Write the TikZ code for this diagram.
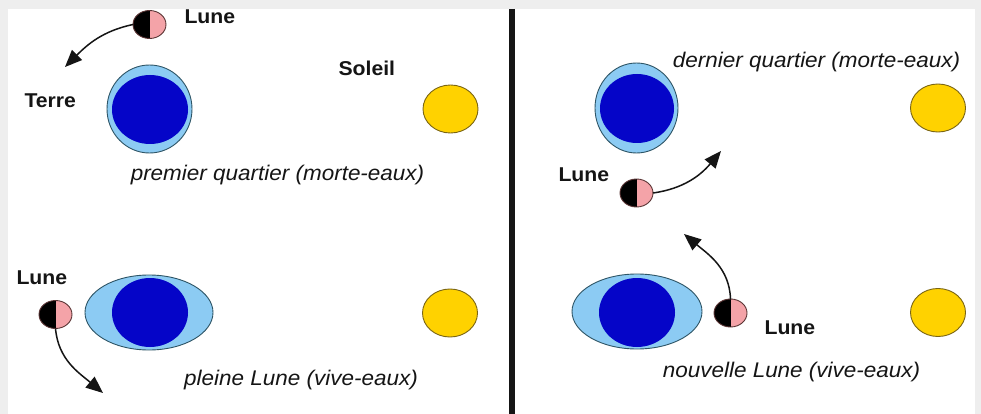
\documentclass[tikz,border=0pt]{standalone}
\usepackage{fontspec}
\setmainfont{Liberation Sans}
\newfontfamily\labfont[FakeStretch=1.06]{Liberation Sans}
\usetikzlibrary{shapes.geometric,arrows.meta}

\definecolor{frame}{HTML}{EEEEEE}
\definecolor{seablue}{HTML}{8CCBF3}
\definecolor{seaedge}{HTML}{2E5566}
\definecolor{landblue}{HTML}{0505C8}
\definecolor{moonpink}{HTML}{F4A3A8}
\definecolor{moonedge}{HTML}{5A3535}
\definecolor{sungold}{HTML}{FFD200}
\definecolor{sunedge}{HTML}{7A6514}
\definecolor{ink}{HTML}{151515}

\tikzset{
  body/.style={ellipse, inner sep=0pt, outer sep=0pt},
  ocean/.style={body, fill=seablue, draw=seaedge, line width=0.9pt},
  land/.style={body, fill=landblue},
  sun/.style={body, fill=sungold, draw=sunedge, line width=0.9pt,
    minimum width=55pt, minimum height=48pt},
  moon/.style={body, fill=moonpink, draw=moonedge, line width=0.9pt,
    minimum width=33pt, minimum height=28pt,
    path picture={\fill[black] (path picture bounding box.south west)
      rectangle (path picture bounding box.north);}},
  name label/.style={anchor=base west, text=ink,
    font=\labfont\fontsize{20}{24}\selectfont\bfseries},
  phase label/.style={anchor=base, text=ink,
    font=\labfont\fontsize{21.2}{25}\selectfont\itshape},
  orbit/.style={line width=1.5pt, draw=ink,
    -{Triangle[length=17pt,width=14pt]}},
}

\begin{document}
\begin{tikzpicture}[x=1pt,y=-1pt]
  % page and frame
  \fill[frame] (0,0) rectangle (981,414);
  \fill[white] (8,9) rectangle (975,414);
  \useasboundingbox (0,0) rectangle (981,414);

  % separator between the two halves
  \coordinate (sepTop) at (511.5,9);
  \coordinate (sepBot) at (511.5,414);
  \draw[line width=6pt, ink] (sepTop) -- (sepBot);

  % ---------- first quarter ----------
  \node[ocean, minimum width=85pt, minimum height=88pt] (seaA) at (149.5,109) {};
  \node[land, minimum width=76pt, minimum height=69pt] (landA) at (150,109.5) {};
  \node[sun] (sunA) at (450.5,109) {};
  \node[moon] (moonA) at (149.5,24.5) {};
  \node[name label] (lunA) at (181,24) {Lune};
  \node[name label] (terre) at (21,108) {Terre};
  \node[name label] (soleil) at (335,76) {Soleil};
  \node[phase label] (phaseA) at (277.5,180) {premier quartier (morte-eaux)};
  \coordinate (tipA) at (65,67);
  \draw[orbit] (moonA.west) to[out=192, in=45] (tipA);

  % ---------- full moon ----------
  \node[ocean, minimum width=128pt, minimum height=75pt] (seaB) at (149,312.5) {};
  \node[land, minimum width=76pt, minimum height=69pt] (landB) at (150,312.5) {};
  \node[sun] (sunB) at (450,313) {};
  \node[moon] (moonB) at (55.5,314.5) {};
  \node[name label] (lunB) at (13,284) {Lune};
  \node[phase label] (phaseB) at (301,385) {pleine Lune (vive-eaux)};
  \coordinate (tipB) at (103,393);
  \draw[orbit] (moonB.south) to[out=-85, in=140] (tipB);

  % ---------- last quarter ----------
  \node[ocean, minimum width=83pt, minimum height=90pt] (seaC) at (636.5,108) {};
  \node[land, minimum width=74pt, minimum height=69pt] (landC) at (637,108.5) {};
  \node[sun] (sunC) at (938,108) {};
  \node[moon] (moonC) at (636.5,193) {};
  \node[name label] (lunC) at (555,182) {Lune};
  \node[phase label] (phaseC) at (816.5,68) {dernier quartier (morte-eaux)};
  \coordinate (tipC) at (721,151);
  \draw[orbit] (moonC.east) to[out=8, in=230] (tipC);

  % ---------- new moon ----------
  \node[ocean, minimum width=130pt, minimum height=75pt] (seaD) at (637,311.5) {};
  \node[land, minimum width=76pt, minimum height=69pt] (landD) at (637,312.5) {};
  \node[sun] (sunD) at (938,312.5) {};
  \node[moon] (moonD) at (730.5,313) {};
  \node[name label] (lunD) at (761,334) {Lune};
  \node[phase label] (phaseD) at (791.5,377) {nouvelle Lune (vive-eaux)};
  \coordinate (tipD) at (684,234);
  \draw[orbit] (moonD.north) to[out=92, in=-40] (tipD);
\end{tikzpicture}
\end{document}
